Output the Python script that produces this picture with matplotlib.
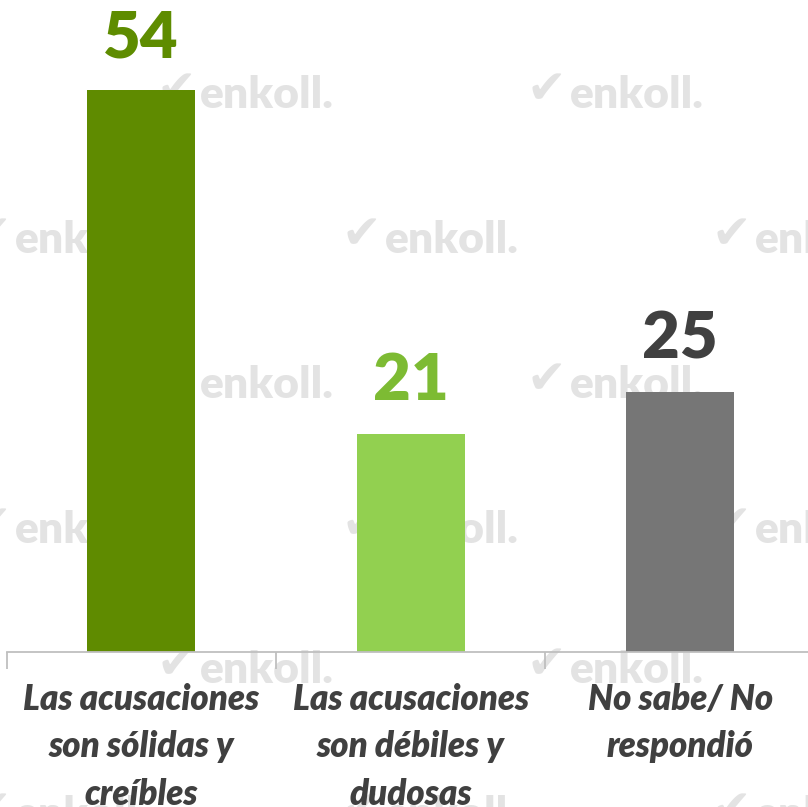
import matplotlib
matplotlib.use("Agg")
import matplotlib.pyplot as plt

# ---------------------------------------------------------------
# Datos
# ---------------------------------------------------------------
categorias = [
    "Las acusaciones\nson sólidas y\ncreíbles",
    "Las acusaciones\nson débiles y\ndudosas",
    "No sabe/ No\nrespondió",
]
valores = [54, 21, 25]
colores_barra = ["#5f8b00", "#92d050", "#767676"]
colores_etiqueta = ["#5e8c00", "#7dbb33", "#404040"]

FUENTE = "Lato"

fig = plt.figure(figsize=(8.08, 8.07), dpi=100)
fig.patch.set_facecolor("white")

# --- Marca de agua (patrón escalonado, debajo del gráfico)
W, H = 808, 807
filas_y = [95, 240, 385, 530, 670, 815]
for k, yy in enumerate(filas_y):
    xs = [200, 570] if k % 2 == 0 else [15, 385, 755]
    for xx in xs:
        fig.text(xx / W, 1 - yy / H, "enkoll.", fontsize=32, fontweight="heavy",
                 family=FUENTE, color="#e3e3e3", ha="left", va="center", zorder=-2)
        fig.text((xx - 24) / W, 1 - (yy - 4) / H, "\u2714", fontsize=34,
                 family="DejaVu Sans", color="#e3e3e3", ha="center", va="center",
                 zorder=-2)

# --- Ejes
ax = fig.add_axes([6.5 / W, 1 - 652 / H, 808.5 / W, 624 / H])
ax.patch.set_visible(False)

x = range(len(valores))
ax.bar(x, valores, width=0.4, color=colores_barra, zorder=2)

for i, v in enumerate(valores):
    ax.text(i, v + 3.2, str(v), ha="center", va="baseline", fontsize=47,
            fontweight="heavy", family=FUENTE, color=colores_etiqueta[i])

ax.set_xlim(-0.5, 2.5)
ax.set_ylim(0, 60)
ax.set_yticks([])
ax.set_xticks(list(x))
ax.set_xticklabels(categorias, fontsize=25, fontweight="heavy", style="italic",
                   family=FUENTE, color="#404040", linespacing=1.55)
ax.tick_params(axis="x", length=0, pad=22)

# separadores de categorías bajo el eje
ax.set_xticks([-0.5, 0.5, 1.5, 2.5], minor=True)
ax.tick_params(axis="x", which="minor", length=12, width=1.3, color="#bfbfbf")

for lado in ["top", "right", "left"]:
    ax.spines[lado].set_visible(False)
ax.spines["bottom"].set_color("#bfbfbf")
ax.spines["bottom"].set_linewidth(1.3)

fig.savefig("out.png", dpi=100, facecolor="white")
